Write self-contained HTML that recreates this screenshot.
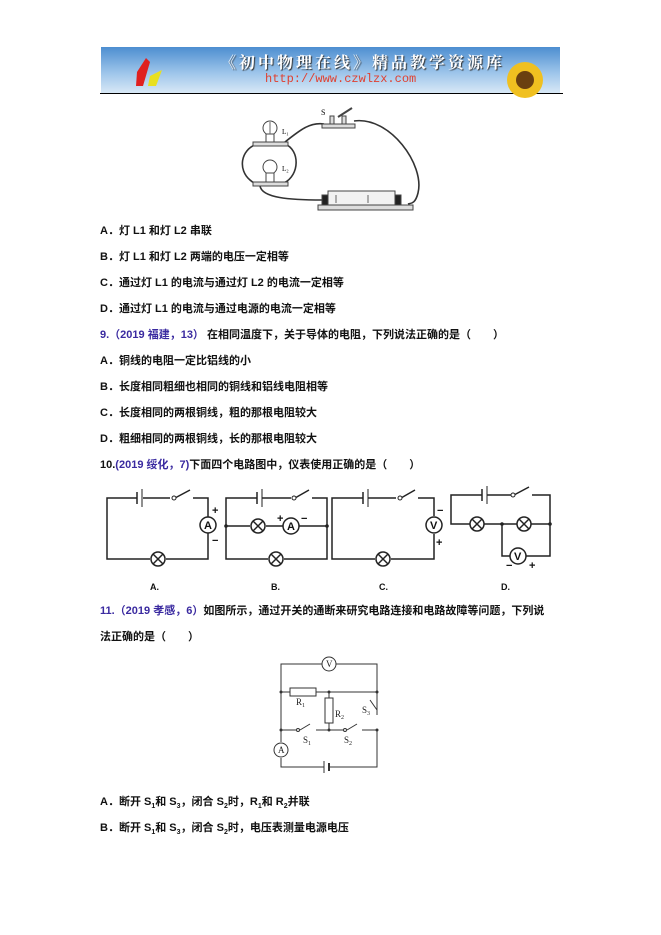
<!DOCTYPE html>
<html><head><meta charset="utf-8"><style>
body{margin:0;background:#fff;width:661px;height:935px;position:relative;overflow:hidden;font-family:"Liberation Sans","Noto Sans CJK SC",sans-serif;}
.t{position:absolute;left:100px;font-size:11px;font-weight:bold;color:#111;white-space:nowrap;line-height:14px;}
.b{color:#3a2aa0;}
svg{position:absolute;left:0;top:0;}
</style></head><body>
<div style="position:absolute;left:101px;top:47px;width:459px;height:46px;background:linear-gradient(180deg,#4d8ed0 0%,#9cc4ea 55%,#d8e8f6 100%);"></div>
<div style="position:absolute;left:100px;top:93px;width:463px;height:1px;background:#000"></div>
<div style="position:absolute;left:220px;top:50px;font-size:16px;color:#fff;font-weight:bold;font-family:'Noto Serif CJK SC',serif;letter-spacing:3px;text-shadow:1px 1px 1px #333;">《初中物理在线》精品教学资源库</div>
<div style="position:absolute;left:265px;top:72px;font-size:12px;color:#e04030;font-family:'Liberation Mono',monospace;">http://www.czwlzx.com</div>
<svg width="661" height="935" viewBox="0 0 661 935">
<path d="M137 72 L146 58 L150 62 L143 86 L136 86Z" fill="#e02020"/><path d="M150 76 L162 70 L156 86 L148 86Z" fill="#e8e020"/>
<circle cx="525" cy="80" r="18" fill="#f0c020"/><circle cx="525" cy="80" r="9" fill="#6a4010"/>
<g fill="none" stroke="#333" stroke-width="1.6">
<path d="M257 144 C240 150 238 170 250 180 C254 184 258 184 260 184"/>
<path d="M285 144 C300 150 300 175 284 183"/>
<path d="M285 142 C300 130 310 122 324 124"/>
<path d="M354 121 C390 116 425 165 418 193 C415 205 410 203 408 204"/>
<path d="M260 186 C262 198 290 200 322 200"/>
</g>
<g fill="#ddd" stroke="#444" stroke-width="1">
<rect x="253" y="142" width="35" height="4"/><rect x="253" y="182" width="35" height="4"/>
<circle cx="270" cy="128" r="7" fill="#fff"/><rect x="266" y="134" width="8" height="8" fill="#fff"/>
<circle cx="270" cy="167" r="7" fill="#fff"/><rect x="266" y="173" width="8" height="9" fill="#fff"/>
<rect x="322" y="124" width="33" height="4"/><rect x="330" y="116" width="4" height="8"/><rect x="342" y="116" width="4" height="8"/>
<rect x="318" y="205" width="95" height="5"/><rect x="328" y="191" width="67" height="14" fill="#f2f2f2"/>
<rect x="322" y="195" width="6" height="10" fill="#222"/><rect x="395" y="195" width="6" height="10" fill="#222"/>
</g>
<path d="M270 122 V134 M336 195 V203 M368 195 V203" stroke="#666" stroke-width="1"/>
<path d="M338 117 L352 108" stroke="#444" stroke-width="2"/>
<text x="321" y="115" font-size="8" font-family="Liberation Serif">S</text>
<text x="282" y="134" font-size="7" font-family="Liberation Serif">L₁</text>
<text x="282" y="171" font-size="7" font-family="Liberation Serif">L₂</text>
<g fill="none" stroke="#222" stroke-width="1.5">
<path d="M137 498 H107 V559 H150 M166 559 H208 V533 M208 517 V498 H193 M175 498 L190 490 M143 498 H170"/>
<line x1="137" y1="492" x2="137" y2="504"/><line x1="142" y1="489" x2="142" y2="507" stroke-width="1"/>
<circle cx="158" cy="559" r="7"/><path d="M153 554 L163 564 M163 554 L153 564"/>
<circle cx="208" cy="525" r="8"/>
<path d="M257 498 H226 V559 H268 M284 559 H327 V498 H312 M295 498 L309 490 M262 498 H291 M226 526 H250 M266 526 H283 M299 526 H327"/>
<line x1="257" y1="492" x2="257" y2="504"/><line x1="262" y1="489" x2="262" y2="507" stroke-width="1"/>
<circle cx="258" cy="526" r="7"/><path d="M253 521 L263 531 M263 521 L253 531"/>
<circle cx="276" cy="559" r="7"/><path d="M271 554 L281 564 M281 554 L271 564"/>
<circle cx="291" cy="526" r="8"/>
<path d="M363 498 H332 V559 H375 M391 559 H434 V534 M434 516 V498 H418 M401 498 L415 490 M368 498 H396"/>
<line x1="363" y1="492" x2="363" y2="504"/><line x1="368" y1="489" x2="368" y2="507" stroke-width="1"/>
<circle cx="383" cy="559" r="7"/><path d="M378 554 L388 564 M388 554 L378 564"/>
<circle cx="434" cy="525" r="8"/>
<path d="M482 495 H451 V524 H470 M484 524 H517 M531 524 H550 V495 H532 M514 495 L529 487 M487 495 H511 M502 524 V556 H510 M526 556 H550 V524"/>
<line x1="482" y1="489" x2="482" y2="501"/><line x1="487" y1="486" x2="487" y2="504" stroke-width="1"/>
<circle cx="477" cy="524" r="7"/><path d="M472 519 L482 529 M482 519 L472 529"/>
<circle cx="524" cy="524" r="7"/><path d="M519 519 L529 529 M529 519 L519 529"/>
<circle cx="518" cy="556" r="8"/>
</g>
<g fill="#222"><circle cx="226" cy="526" r="1.8"/><circle cx="327" cy="526" r="1.8"/><circle cx="502" cy="524" r="1.8"/><circle cx="550" cy="524" r="1.8"/>
<circle cx="174" cy="498" r="2" fill="#fff" stroke="#222"/><circle cx="294" cy="498" r="2" fill="#fff" stroke="#222"/><circle cx="400" cy="498" r="2" fill="#fff" stroke="#222"/><circle cx="513" cy="495" r="2" fill="#fff" stroke="#222"/></g>
<g font-family="Liberation Sans" font-size="11" fill="#111" font-weight="bold">
<text x="204" y="529">A</text><text x="287" y="530">A</text><text x="430" y="529">V</text><text x="514" y="560">V</text>
<text x="212" y="514">+</text><text x="212" y="544">−</text><text x="277" y="522">+</text><text x="301" y="522">−</text>
<text x="437" y="514">−</text><text x="436" y="546">+</text><text x="506" y="569">−</text><text x="529" y="569">+</text>
<text x="150" y="590" font-size="9">A.</text><text x="271" y="590" font-size="9">B.</text><text x="379" y="590" font-size="9">C.</text><text x="501" y="590" font-size="9">D.</text>
</g>
<g fill="none" stroke="#333" stroke-width="1">
<path d="M281 742 V664 H322 M336 664 H377 V715 M377 710 L370 700"/>
<path d="M377 730 V767 H330 M324 767 H281 V758"/>
<path d="M281 692 H290 M316 692 H377"/><rect x="290" y="688" width="26" height="8"/>
<path d="M329 692 V698 M329 723 V730"/><rect x="325" y="698" width="8" height="25"/>
<path d="M281 730 H296 M300 730 L310 724 M316 730 H343 M347 730 L357 724 M362 730 H377"/>
<circle cx="298" cy="730" r="1.5"/><circle cx="345" cy="730" r="1.5"/>
<circle cx="329" cy="664" r="7"/><circle cx="281" cy="750" r="7"/>
<line x1="324" y1="761" x2="324" y2="773"/><line x1="329" y1="763" x2="329" y2="771" stroke-width="2"/>
</g>
<g fill="#333"><circle cx="281" cy="692" r="1.5"/><circle cx="377" cy="692" r="1.5"/><circle cx="329" cy="692" r="1.5"/><circle cx="281" cy="730" r="1.5"/><circle cx="329" cy="730" r="1.5"/><circle cx="377" cy="730" r="1.5"/></g>
<g font-family="Liberation Serif" font-size="9" fill="#222">
<text x="326" y="667">V</text><text x="278" y="753">A</text>
<text x="296" y="705">R<tspan font-size="6" dy="2">1</tspan></text><text x="335" y="717">R<tspan font-size="6" dy="2">2</tspan></text>
<text x="362" y="713">S<tspan font-size="6" dy="2">3</tspan></text><text x="303" y="743">S<tspan font-size="6" dy="2">1</tspan></text><text x="344" y="743">S<tspan font-size="6" dy="2">2</tspan></text>
</g>
</svg>
<div class="t" style="top:224px">A．灯 L1 和灯 L2 串联</div>
<div class="t" style="top:250px">B．灯 L1 和灯 L2 两端的电压一定相等</div>
<div class="t" style="top:276px">C．通过灯 L1 的电流与通过灯 L2 的电流一定相等</div>
<div class="t" style="top:302px">D．通过灯 L1 的电流与通过电源的电流一定相等</div>
<div class="t" style="top:328px"><span class="b">9.（2019 福建，13）</span> 在相同温度下，关于导体的电阻，下列说法正确的是（　　）</div>
<div class="t" style="top:354px">A．铜线的电阻一定比铝线的小</div>
<div class="t" style="top:380px">B．长度相同粗细也相同的铜线和铝线电阻相等</div>
<div class="t" style="top:406px">C．长度相同的两根铜线，粗的那根电阻较大</div>
<div class="t" style="top:432px">D．粗细相同的两根铜线，长的那根电阻较大</div>
<div class="t" style="top:458px">10.<span class="b">(2019 绥化，7)</span>下面四个电路图中，仪表使用正确的是（　　）</div>
<div class="t" style="top:604px"><span class="b">11.（2019 孝感，6）</span>如图所示，通过开关的通断来研究电路连接和电路故障等问题，下列说</div>
<div class="t" style="top:630px">法正确的是（　　）</div>
<div class="t" style="top:795px">A．断开 S<sub style="font-size:7px">1</sub>和 S<sub style="font-size:7px">3</sub>，闭合 S<sub style="font-size:7px">2</sub>时，R<sub style="font-size:7px">1</sub>和 R<sub style="font-size:7px">2</sub>并联</div>
<div class="t" style="top:821px">B．断开 S<sub style="font-size:7px">1</sub>和 S<sub style="font-size:7px">3</sub>，闭合 S<sub style="font-size:7px">2</sub>时，电压表测量电源电压</div>
</body></html>
